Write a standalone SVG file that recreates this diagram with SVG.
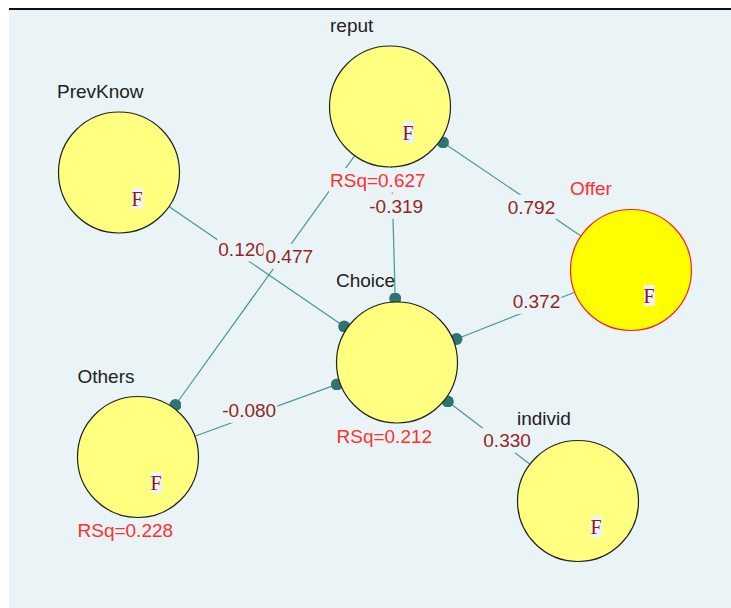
<svg xmlns="http://www.w3.org/2000/svg" width="731" height="608" viewBox="0 0 731 608">
<style>
.node{fill:#ffff80;stroke:#222;stroke-width:1.2}
.node.sel{fill:#ffff00;stroke:#ff2020}
.lbl{font-family:"Liberation Sans",Arial,sans-serif;font-size:19px;fill:#222}
.lbl.red{fill:#ff3030}
.rsq{font-family:"Liberation Sans",Arial,sans-serif;font-size:19px;fill:#ff3030}
.fbox{fill:#eef4f4}
.f{font-family:"Liberation Serif","Times New Roman",serif;font-size:20px;fill:#8b1a1a}
.edge{stroke:#4b9696;stroke-width:1.2;fill:none}
.coef{font-family:"Liberation Sans",Arial,sans-serif;font-size:19px;fill:#922626}
.cbg{fill:#eaf3f5}
</style>
<defs>
<marker id="dot" viewBox="0 0 12 12" refX="6" refY="6" markerWidth="12" markerHeight="12" markerUnits="userSpaceOnUse">
<circle cx="6" cy="6" r="6" fill="#2f7373"/>
</marker>
</defs>
<rect x="0" y="0" width="731" height="608" fill="#ffffff"/>
<rect x="9" y="10" width="722" height="598" fill="#eaf3f5"/>
<rect x="9" y="8" width="722" height="2" fill="#111"/>
<g id="connectors">
<line class="edge" x1="168.9" y1="206.6" x2="344.2" y2="326.4" marker-end="url(#dot)"/>
<line class="edge" x1="354.7" y1="155.6" x2="175.4" y2="405.0" marker-end="url(#dot)"/>
<line class="edge" x1="580.9" y1="236.0" x2="443.0" y2="142.4" marker-end="url(#dot)"/>
<line class="edge" x1="391.6" y1="167.0" x2="395.2" y2="298.5" marker-end="url(#dot)"/>
<line class="edge" x1="574.7" y1="292.2" x2="456.5" y2="339.0" marker-end="url(#dot)"/>
<line class="edge" x1="194.8" y1="436.3" x2="336.9" y2="384.4" marker-end="url(#dot)"/>
<line class="edge" x1="530.0" y1="464.2" x2="447.8" y2="401.4" marker-end="url(#dot)"/>
<rect class="cbg" x="217.3" y="236.5" width="49.5" height="25"/>
<text class="coef" x="218.3" y="256">0.120</text>
<rect class="cbg" x="263.5" y="243.8" width="51" height="25"/>
<text class="coef" x="265.5" y="263.3">0.477</text>
<rect class="cbg" x="368.3" y="193.8" width="56" height="25"/>
<text class="coef" x="369.3" y="213.3">-0.319</text>
<rect class="cbg" x="506.7" y="194.8" width="49.5" height="25"/>
<text class="coef" x="507.7" y="214.3">0.792</text>
<rect class="cbg" x="511.7" y="288.8" width="49.5" height="25"/>
<text class="coef" x="512.7" y="308.3">0.372</text>
<rect class="cbg" x="221.3" y="397.8" width="56" height="25"/>
<text class="coef" x="222.3" y="417.3">-0.080</text>
<rect class="cbg" x="482.3" y="427.8" width="49.5" height="25"/>
<text class="coef" x="483.3" y="447.3">0.330</text>
</g>
<g id="reput">
<circle class="node" cx="390" cy="106.5" r="60.5"/>
<rect class="fbox" x="403" y="121.5" width="11" height="21"/>
<text class="f" x="402.5" y="139.5">F</text>
<text class="lbl" x="330" y="32">reput</text>
<rect class="cbg" x="329" y="168" width="98" height="24.5"/>
<text class="rsq" x="330" y="187">RSq=0.627</text>
</g>
<g id="PrevKnow">
<circle class="node" cx="119" cy="172.5" r="60.5"/>
<rect class="fbox" x="132" y="187.5" width="11" height="21"/>
<text class="f" x="131.5" y="205.5">F</text>
<text class="lbl" x="57" y="98">PrevKnow</text>
</g>
<g id="Offer">
<circle class="node sel" cx="631" cy="270" r="60.5"/>
<rect class="fbox" x="644" y="285" width="11" height="21"/>
<text class="f" x="643.5" y="303">F</text>
<text class="lbl red" x="570" y="195">Offer</text>
</g>
<g id="Choice">
<circle class="node" cx="397" cy="362.5" r="60.5"/>
<text class="lbl" x="336" y="287">Choice</text>
<rect class="cbg" x="335.5" y="424" width="98" height="24.5"/>
<text class="rsq" x="336.5" y="443">RSq=0.212</text>
</g>
<g id="Others">
<circle class="node" cx="138" cy="457" r="60.5"/>
<rect class="fbox" x="151" y="472" width="11" height="21"/>
<text class="f" x="150.5" y="490">F</text>
<text class="lbl" x="77.5" y="383">Others</text>
<rect class="cbg" x="76.5" y="518" width="98" height="24.5"/>
<text class="rsq" x="77.5" y="537">RSq=0.228</text>
</g>
<g id="individ">
<circle class="node" cx="578" cy="501" r="60.5"/>
<rect class="fbox" x="591" y="516" width="11" height="21"/>
<text class="f" x="590.5" y="534">F</text>
<text class="lbl" x="517" y="425">individ</text>
</g>
</svg>
